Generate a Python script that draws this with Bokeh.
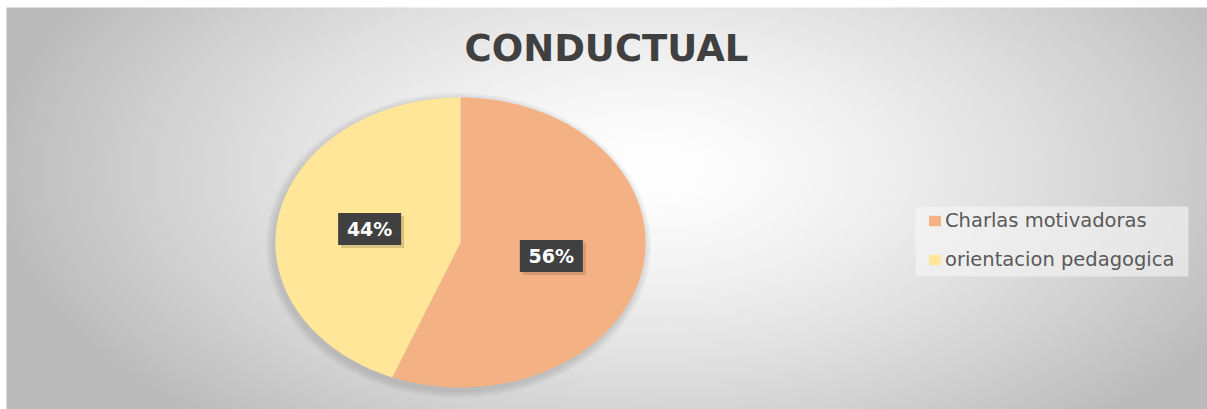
import numpy as np
from bokeh.plotting import figure
from bokeh.models import ColumnDataSource, Label, Legend, LegendItem, Range1d, BoxAnnotation
from bokeh.core.properties import value
from bokeh.transform import dodge
from bokeh.embed import file_html
from bokeh.resources import INLINE

title_text = "CONDUCTUAL"
categories = ["Charlas motivadoras", "orientacion pedagogica"]
values = [56, 44]
colors = ["#F4B183", "#FFE699"]

W, H = 1207, 409
p = figure(width=W, height=H, x_range=Range1d(0, W), y_range=Range1d(0, H),
           output_backend="svg", toolbar_location=None, min_border=0)
p.axis.visible = False
p.grid.visible = False
p.outline_line_color = None
p.background_fill_color = "#ffffff"
p.border_fill_color = "#ffffff"

# background radial gradient (styling only)
x0, y0, bw, bh = 6, 0, W - 6, H - 7
nx, ny = 300, 100
gx = np.linspace(x0, x0 + bw, nx)
gy = np.linspace(y0, y0 + bh, ny)
X, Y = np.meshgrid(gx, gy)
gcx, gcy = 650, 240
rr = np.sqrt(((X - gcx) / 660) ** 2 + ((Y - gcy) / 345) ** 2)
v = (255 - 68 * np.clip(rr, 0, 1) ** 1.4).astype(np.uint8)
img = np.empty((ny, nx), dtype=np.uint32)
view = img.view(dtype=np.uint8).reshape((ny, nx, 4))
view[..., 0] = v
view[..., 1] = v
view[..., 2] = v
view[..., 3] = 255
p.image_rgba(image=[img], x=x0, y=y0, dw=bw, dh=bh)

# pie geometry
cx, cy, rx, ry = 460, H - 242, 185, 145

# soft shadow
for k in range(4):
    p.ellipse(x=cx - 2, y=cy - 3, width=2 * rx + 3 + 4 * k, height=2 * ry + 3 + 4 * k,
              fill_color="#555555", fill_alpha=0.05, line_color=None)

total = float(sum(values))
fr = np.cumsum([0] + values) / total
pxs, pys, lx, ly, labels = [], [], [], [], []
for i in range(len(values)):
    t = np.linspace(fr[i], fr[i + 1], 240)
    ang = np.pi / 2 - 2 * np.pi * t
    pxs.append(np.concatenate([[cx], cx + rx * np.cos(ang)]))
    pys.append(np.concatenate([[cy], cy + ry * np.sin(ang)]))
    mid = np.pi / 2 - 2 * np.pi * (fr[i] + fr[i + 1]) / 2
    lx.append(cx + 0.5 * rx * np.cos(mid))
    ly.append(cy + 0.5 * ry * np.sin(mid))
    labels.append(f"{round(values[i] / total * 100)}%")

src = ColumnDataSource(dict(xs=pxs, ys=pys, color=colors, cat=categories))
pie = p.patches(xs="xs", ys="ys", fill_color="color", line_color=None, source=src)

lsrc = ColumnDataSource(dict(x=lx, y=ly, text=labels))
p.rect(x=dodge("x", 3), y=dodge("y", -3), width=63, height=32, source=lsrc,
       fill_color="#6b5a3a", fill_alpha=0.25, line_color=None)
p.rect(x="x", y="y", width=63, height=32, source=lsrc, fill_color="#404040", line_color=None)
p.text(x="x", y="y", text="text", source=lsrc, text_align="center", text_baseline="middle",
       text_color="white", text_font=value("DejaVu Sans"), text_font_style="bold",
       text_font_size="19px")

p.add_layout(Label(x=606, y=H - 48, text=title_text, text_align="center", text_baseline="middle",
                   text_font="DejaVu Sans", text_font_style="bold", text_font_size="37px",
                   text_color="#404040"))

# legend box background
p.add_layout(BoxAnnotation(left=915, right=1188, top=H - 206, bottom=H - 276,
                           fill_color="#f6f6f6", fill_alpha=0.6, line_color=None))

legend = Legend(items=[LegendItem(label=categories[i], renderers=[pie], index=i) for i in range(len(values))],
                location=(927, H - 271))
legend.glyph_width = 15
legend.glyph_height = 13
legend.label_standoff = 3
legend.padding = 12
legend.spacing = 16
legend.label_height = 20
legend.label_text_font = "DejaVu Sans"
legend.label_text_font_size = "19.5px"
legend.label_text_color = "#595959"
legend.background_fill_alpha = 0
legend.border_line_color = None
legend.margin = 0
p.add_layout(legend)

open("out.html", "w").write(file_html(p, INLINE))
